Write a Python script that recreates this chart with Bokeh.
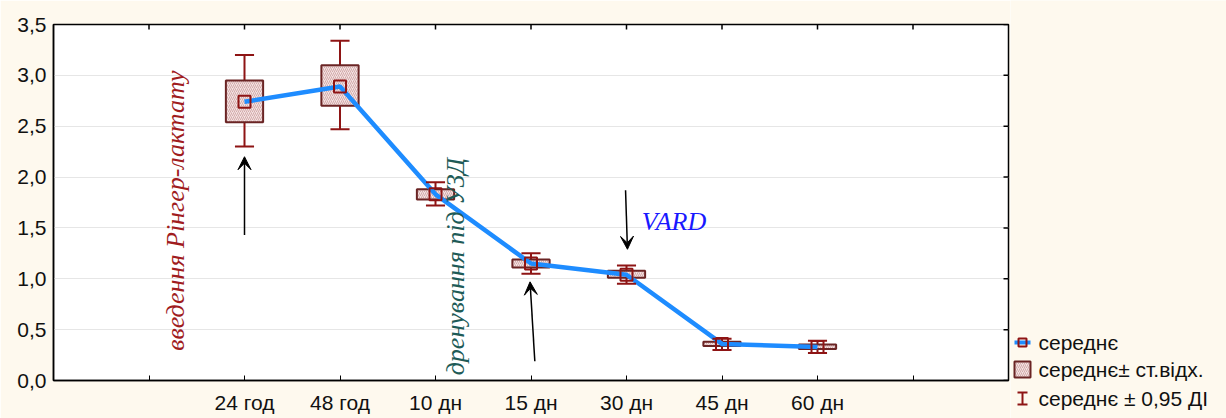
import math
from bokeh.plotting import figure
from bokeh.layouts import row
from bokeh.models import (ColumnDataSource, FixedTicker, Range1d, Arrow, VeeHead)
from bokeh.core.properties import value
from bokeh.embed import file_html
from bokeh.resources import INLINE

# ---- data ----
categories = ["24 год", "48 год", "10 дн", "15 дн", "30 дн", "45 дн", "60 дн"]
positions = [2, 3, 4, 5, 6, 7, 8]
mean = [2.74, 2.89, 1.83, 1.15, 1.04, 0.36, 0.33]
sd_low = [2.54, 2.70, 1.78, 1.11, 1.01, 0.34, 0.31]
sd_high = [2.95, 3.10, 1.88, 1.19, 1.08, 0.38, 0.355]
ci_low = [2.30, 2.47, 1.72, 1.05, 0.95, 0.30, 0.27]
ci_high = [3.20, 3.34, 1.95, 1.25, 1.13, 0.41, 0.39]

y_ticks = [0.0, 0.5, 1.0, 1.5, 2.0, 2.5, 3.0, 3.5]
y_tick_labels = ["0,0", "0,5", "1,0", "1,5", "2,0", "2,5", "3,0", "3,5"]
x_ticks = [1, 2, 3, 4, 5, 6, 7, 8, 9]

arrow_x0 = [2.0, 5.04, 5.99]
arrow_y0 = [1.43, 0.19, 1.87]
arrow_x1 = [2.0, 4.99, 6.01]
arrow_y1 = [2.20, 0.97, 1.29]

notes = ["введення Рінгер-лактату", "дренування під УЗД"]
notes_x = [1.28, 4.21]
notes_y = [1.67, 1.12]
notes_colors = ["#A01C1E", "#1E5B57"]
vard_text = ["VARD"]
vard_x = [6.16]
vard_y = [1.56]

legend_labels = ["середнє", "середнє± ст.відх.", "середнє ± 0,95 ДІ"]

BG = "#FEF9EE"
DARK_RED = "#8E1414"
BOX_EDGE = "#6A2424"
BLUE = "#1E8CFF"
FONT_PX = "21px"

X0, X1, Y0, Y1 = 0, 10, 0, 3.5

p = figure(width=1010, height=418, output_backend="svg", toolbar_location=None,
           x_range=Range1d(X0, X1), y_range=Range1d(Y0, Y1),
           min_border_left=53, min_border_right=2, min_border_top=24, min_border_bottom=38,
           border_fill_color=BG, background_fill_color="white",
           outline_line_color="black", outline_line_width=1.5)
p.frame_align = False

p.xgrid.visible = False
p.ygrid.grid_line_color = "#E6E6E6"
p.ygrid.ticker = FixedTicker(ticks=y_ticks)

xa = p.xaxis[0]
xa.ticker = FixedTicker(ticks=x_ticks)
overrides = {1: ""}
for pos, c in zip(positions, categories):
    overrides[pos] = c
overrides[9] = ""
xa.major_label_overrides = overrides
xa.major_tick_in = 5
xa.major_tick_out = 0
xa.minor_tick_in = 0
xa.minor_tick_out = 0
xa.major_label_standoff = 10
xa.major_label_text_font = "Liberation Sans"
xa.major_label_text_font_size = FONT_PX
xa.major_label_text_color = "#111111"
xa.axis_line_color = "black"
xa.axis_line_width = 1.5
xa.major_tick_line_color = "black"

ya = p.yaxis[0]
ya.ticker = FixedTicker(ticks=y_ticks)
ya.major_label_overrides = {t: l for t, l in zip(y_ticks, y_tick_labels)}
ya.major_tick_in = 0
ya.major_tick_out = 0
ya.minor_tick_in = 0
ya.minor_tick_out = 0
ya.major_label_standoff = 7
ya.major_label_text_font = "Liberation Sans"
ya.major_label_text_font_size = FONT_PX
ya.major_label_text_color = "#111111"
ya.axis_line_color = "black"
ya.axis_line_width = 1.5

# inward ticks on the top and right frame edges (half of each dash is clipped by the frame)
p.scatter(x=x_ticks, y=[Y1] * len(x_ticks), marker="dash", angle=math.pi / 2, size=10,
          line_color="black", line_width=1.5)
p.scatter(x=[X1] * len(y_ticks), y=y_ticks, marker="dash", size=10,
          line_color="black", line_width=1.5)

bw = 0.39
cw = 0.2
src = ColumnDataSource(dict(
    x=positions, mean=mean, sdl=sd_low, sdh=sd_high, cil=ci_low, cih=ci_high,
    left=[x - bw / 2 for x in positions], right=[x + bw / 2 for x in positions],
    cl=[x - cw / 2 for x in positions], cr=[x + cw / 2 for x in positions],
))

# whisker stems (behind boxes)
p.segment(x0="x", x1="x", y0="cil", y1="cih", source=src, line_color=DARK_RED, line_width=2)
# SD boxes
p.quad(left="left", right="right", bottom="sdl", top="sdh", source=src,
       fill_color="#F4E2E2", line_color=BOX_EDGE, line_width=2,
       hatch_pattern="/", hatch_color="#C99C9C", hatch_scale=4, hatch_weight=0.8)
# mean line
p.line(x="x", y="mean", source=src, line_color=BLUE, line_width=4.5)
# caps
p.segment(x0="cl", x1="cr", y0="cih", y1="cih", source=src, line_color=DARK_RED, line_width=2)
p.segment(x0="cl", x1="cr", y0="cil", y1="cil", source=src, line_color=DARK_RED, line_width=2)
# mean markers
p.scatter(x="x", y="mean", source=src, marker="square", size=12, fill_color=None,
          line_color=DARK_RED, line_width=2)

# arrows
asrc = ColumnDataSource(dict(x0=arrow_x0, y0=arrow_y0, x1=arrow_x1, y1=arrow_y1))
p.add_layout(Arrow(x_start="x0", y_start="y0", x_end="x1", y_end="y1", source=asrc,
                   line_color="black", line_width=1.5,
                   end=VeeHead(size=13, fill_color="black", line_color="black", line_width=1)))

# annotations
nsrc = ColumnDataSource(dict(x=notes_x, y=notes_y, t=notes, c=notes_colors))
p.text(x="x", y="y", text="t", source=nsrc, angle=math.pi / 2, text_color="c",
       text_font=value("Liberation Serif"), text_font_style="italic",
       text_font_size="26px", text_align="center", text_baseline="middle")
p.text(x=vard_x, y=vard_y, text=vard_text, text_color="#1818FF",
       text_font=value("Liberation Serif"), text_font_style="italic",
       text_font_size="26px", text_align="left", text_baseline="middle")

# ---- legend panel ----
leg = figure(width=216, height=418, output_backend="svg", toolbar_location=None,
             x_range=Range1d(0, 216), y_range=Range1d(418, 0),
             x_axis_location=None, y_axis_location=None,
             min_border=0, border_fill_color=BG, background_fill_color=BG,
             outline_line_color=None)
leg.frame_align = False
leg.grid.visible = False

leg_y = [342, 369, 398]
leg.line(x=[4, 20], y=[leg_y[0], leg_y[0]], line_color=BLUE, line_width=4)
leg.scatter(x=[12], y=[leg_y[0]], marker="square", size=8, fill_color=None,
            line_color=DARK_RED, line_width=2)
leg.quad(left=[4], right=[20], top=[leg_y[1] - 8], bottom=[leg_y[1] + 8],
         fill_color="#F4E2E2", line_color=BOX_EDGE, line_width=2,
         hatch_pattern="/", hatch_color="#C99C9C", hatch_scale=4, hatch_weight=0.8)
leg.segment(x0=[12, 7, 7], x1=[12, 17, 17], y0=[leg_y[2] - 6, leg_y[2] - 6, leg_y[2] + 6],
            y1=[leg_y[2] + 6, leg_y[2] - 6, leg_y[2] + 6], line_color=DARK_RED, line_width=2)
leg.text(x=[28, 28, 28], y=leg_y, text=legend_labels, text_color="#111111",
         text_font=value("Liberation Sans"), text_font_size=FONT_PX,
         text_align="left", text_baseline="middle")

layout = row(p, leg)
open("out.html", "w").write(file_html(layout, INLINE))
